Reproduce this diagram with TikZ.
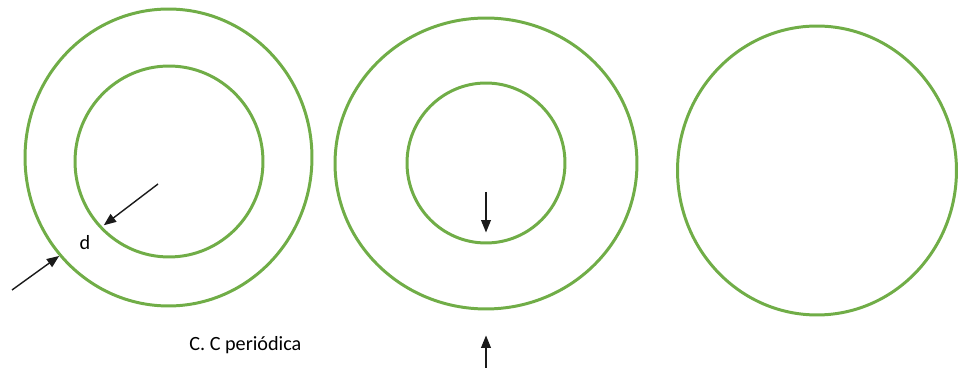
\documentclass[tikz,border=0pt]{standalone}
\usepackage{fontspec}
\setmainfont{Carlito}
\usepackage{tikz}
\usetikzlibrary{arrows.meta,positioning,shapes.geometric}
\definecolor{ringgreen}{HTML}{70AD47}
\definecolor{bk90}{HTML}{1A1A1A}
\tikzset{
  ring/.style={
    ellipse, draw=ringgreen, line width=1.7pt,
    inner sep=0pt
  },
  gaparrow/.style={
    -{Triangle[length=7pt, width=5.5pt]}, line width=0.8pt, color=bk90
  },
  labelnode/.style={
    font=\fontsize{11.5}{13}\selectfont, inner sep=0pt
  },
}
\begin{document}
\begin{tikzpicture}[x=0.02cm, y=-0.02cm]
  \useasboundingbox (0,0) rectangle (958,378);

  % Left pair of rings
  \node[ring, minimum width=5.74cm, minimum height=5.94cm] (outerA) at (168.5,157.5) {};
  \node[ring, minimum width=3.76cm, minimum height=3.82cm] (innerA) at (169,161.5) {};

  % Middle pair of rings
  \node[ring, minimum width=6.04cm, minimum height=5.82cm] (outerB) at (486,163.5) {};
  \node[ring, minimum width=3.16cm, minimum height=3.20cm] (innerB) at (486,163) {};

  % Right ring
  \node[ring, minimum width=5.58cm, minimum height=5.78cm] (ringC) at (817,170.5) {};

  % Free ends of the arrows
  \coordinate (tailA) at (12,290);
  \coordinate (tailB) at (158,184);
  \coordinate (tailC) at (486,192);
  \coordinate (tailD) at (486,368);

  % Gap arrows
  \draw[gaparrow] (tailA) -- (outerA.222);
  \draw[gaparrow, shorten >=0.1cm] (tailB) -- (innerA.224);
  \draw[gaparrow, shorten >=0.24cm] (tailC) -- (innerB.south);
  \draw[gaparrow, shorten >=0.5cm] (tailD) -- (outerB.south);

  % Labels
  \node[labelnode] (gap) at (85,243) {d};
  \node[labelnode, anchor=west] (caption) at (189,345) {C. C periódica};
\end{tikzpicture}
\end{document}
